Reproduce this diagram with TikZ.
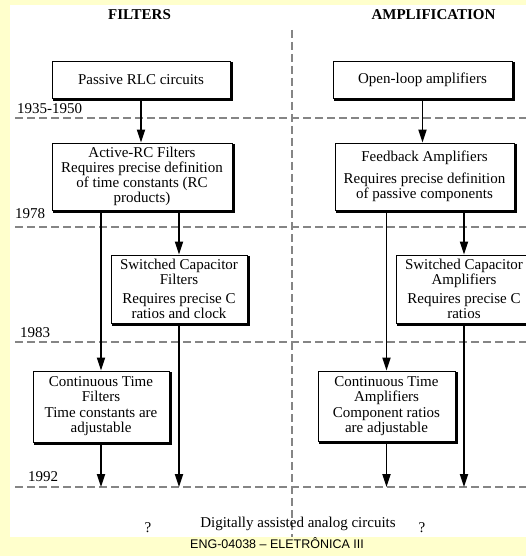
\documentclass[tikz,border=0pt]{standalone}
\usepackage{fontspec}
\setmainfont{Liberation Serif}
\newfontfamily\footfont{Liberation Sans}
\usetikzlibrary{arrows.meta}
\definecolor{slideBg}{HTML}{FFFFCC}
\definecolor{lineGray}{HTML}{858585}

\begin{document}
\begin{tikzpicture}[x = 1pt, y = -1pt,
	box/.style = {draw, fill=white, line width=0.8pt, align=center, inner sep=2pt,
		font=\fontsize{15}{15}\selectfont,
		append after command={\pgfextra{\let\boxNode=\tikzlastnode
			\draw[line width=1.6pt] ([xshift=1.4pt,yshift=-1.4pt]\boxNode.north east)
				-- ([xshift=1.4pt,yshift=-1.4pt]\boxNode.south east)
				-- ([xshift=1.4pt,yshift=-1.4pt]\boxNode.south west);}}},
	era/.style = {draw=lineGray, line width=1.4pt, dash pattern=on 8pt off 4pt},
	flow/.style = {line width=1.8pt, -{Triangle[length=13pt,width=8pt]}},
	txt/.style = {font=\fontsize{15}{15}\selectfont, inner sep=0pt},
]
	\useasboundingbox (0,0) rectangle (526,556);
	\fill[slideBg] (0,0) rectangle (526,556);
	\clip (0,0) rectangle (526,556);
	\fill[white] (10,5) rectangle (530,537);

	\def \yOne {118};
	\def \yTwo {227};
	\def \yThree {342};
	\def \yFour {487};
	\def \xMid {292};

	\coordinate (PLineFour) at (0,\yFour);

%era lines
	\draw[era] (15,\yOne) -- (530,\yOne);
	\draw[era] (15,\yTwo) -- (530,\yTwo);
	\draw[era] (15,\yThree) -- (530,\yThree);
	\draw[era] (15,\yFour) -- (530,\yFour);
	\draw[era, line width=1.1pt] (\xMid,30) -- (\xMid,537);

%titles and years
	\node[txt, font=\fontsize{15}{15}\selectfont\bfseries, anchor=base] (titFil) at (139.5,20) {FILTERS};
	\node[txt, font=\fontsize{15}{15}\selectfont\bfseries, anchor=base] (titAmp) at (433.5,20) {AMPLIFICATION};
	\node[txt, anchor=base west] (yrOne) at (17,114) {1935-1950};
	\node[txt, anchor=base west] (yrTwo) at (15,218) {1978};
	\node[txt, anchor=base west] (yrThree) at (20,337) {1983};
	\node[txt, anchor=base west] (yrFour) at (28,481) {1992};

%filter boxes
	\node[box, minimum width=178, minimum height=37] (pasRLC) at (141,79.5) {Passive RLC circuits};
	\node[box, minimum width=180, minimum height=67] (actRC) at (142,176.5)
		{Active-RC Filters\\ Requires precise definition\\ of time constants (RC\\ products)};
	\node[box, minimum width=136, minimum height=68] (scFil) at (179,289)
		{Switched Capacitor\\ Filters\\[4pt] Requires precise C\\ ratios and clock};
	\node[box, minimum width=136, minimum height=71] (ctFil) at (101,406.5)
		{Continuous Time\\ Filters\\[1pt] Time constants are\\ adjustable};

%amplifier boxes
	\node[box, minimum width=179, minimum height=37] (opLoop) at (422.5,79.5) {Open-loop amplifiers};
	\node[box, minimum width=179, minimum height=67] (fbAmp) at (424.5,176.5)
		{Feedback Amplifiers\\[7pt] Requires precise definition\\ of passive components};
	\node[box, minimum width=136, minimum height=68] (scAmp) at (464,289)
		{Switched Capacitor\\ Amplifiers\\[4pt] Requires precise C\\ ratios};
	\node[box, minimum width=137, minimum height=70] (ctAmp) at (386.5,406)
		{Continuous Time\\ Amplifiers\\[1pt] Component ratios\\ are adjustable};

%arrows
	\draw[flow] (pasRLC.south) -- (pasRLC.south |- actRC.north);
	\draw[flow] (actRC.south -| ctFil.north) -- (ctFil.north);
	\draw[flow] (actRC.south -| scFil.north) -- (scFil.north);
	\draw[flow] (ctFil.south) -- (ctFil.south |- PLineFour);
	\draw[flow] (scFil.south) -- (scFil.south |- PLineFour);

	\draw[flow] (opLoop.south) -- (opLoop.south |- fbAmp.north);
	\draw[flow] (fbAmp.south -| ctAmp.north) -- (ctAmp.north);
	\draw[flow] (fbAmp.south -| scAmp.north) -- (scAmp.north);
	\draw[flow] (ctAmp.south) -- (ctAmp.south |- PLineFour);
	\draw[flow] (scAmp.south) -- (scAmp.south |- PLineFour);

%bottom
	\node[txt, anchor=base] (digAna) at (298,527) {Digitally assisted analog circuits};
	\node[txt, anchor=base] (qFil) at (148,532) {?};
	\node[txt, anchor=base] (qAmp) at (422,532) {?};
	\node[inner sep=0pt, font=\fontsize{12.5}{13}\footfont, anchor=base] (footer) at (277,548) {ENG-04038 – ELETRÔNICA III};
\end{tikzpicture}
\end{document}
